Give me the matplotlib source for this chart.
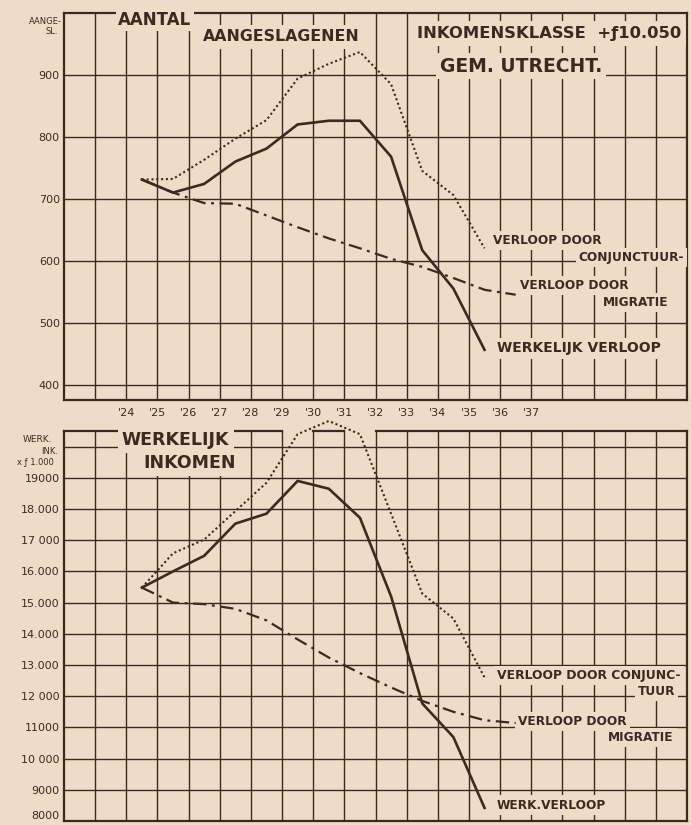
import numpy as np
import matplotlib.pyplot as plt

# ---- data (points sit at mid-year) ----
years = np.arange(1924, 1936) + 0.5
years_mig = np.arange(1924, 1937) + 0.5

# aantal aangeslagenen
aantal_werkelijk = [731, 710, 724, 760, 781, 820, 826, 826, 768, 617, 555, 456]
aantal_conjunctuur = [731, 732, 763, 797, 827, 894, 918, 937, 885, 745, 706, 620]
aantal_migratie = [731, 710, 693, 692, 673, 654, 636, 620, 603, 590, 572, 553, 545]

# werkelijk inkomen x f 1.000
ink_werkelijk = [15480, 16000, 16500, 17530, 17850, 18900, 18650, 17720, 15200, 11770, 10690, 8420]
ink_conjunctuur = [15480, 16580, 17020, 17930, 18840, 20400, 20820, 20400, 17850, 15290, 14490, 12600]
ink_migratie = [15480, 15000, 14950, 14800, 14430, 13820, 13240, 12740, 12280, 11850, 11500, 11230, 11140]

year_ticks = list(range(1923, 1942))
year_labels = ["'%02d" % (y % 100) if 1924 <= y <= 1937 else "" for y in year_ticks]

top_ticks = [400, 500, 600, 700, 800, 900]
top_labels = ["400", "500", "600", "700", "800", "900"]
bot_ticks = [8000, 9000, 10000, 11000, 12000, 13000, 14000, 15000, 16000, 17000, 18000, 19000, 20000]
bot_labels = ["8000", "9000", "10 000", "11000", "12 000", "13.000", "14.000", "15.000",
              "16.000", "17 000", "18.000", "19000", ""]

BG = "#eddcc7"
INK = "#3b2b1f"

fig = plt.figure(figsize=(6.91, 8.25), dpi=100, facecolor=BG)
ax1 = fig.add_axes([64 / 691, 425 / 825, 623 / 691, 387 / 825])
ax2 = fig.add_axes([64 / 691, 4 / 825, 623 / 691, 390 / 825])

for ax in (ax1, ax2):
    ax.set_facecolor(BG)
    ax.set_xlim(1922, 1942)
    ax.set_xticks(year_ticks)
    ax.set_axisbelow(True)
    ax.grid(True, color=INK, linewidth=1.0)
    ax.tick_params(length=0, colors=INK)
    for s in ax.spines.values():
        s.set_color(INK)
        s.set_linewidth(1.6)

ax1.set_ylim(375, 1000)
ax1.set_yticks(top_ticks)
ax1.set_yticklabels(top_labels, fontsize=8, color=INK)
ax1.set_xticklabels(year_labels, fontsize=8, color=INK)
ax1.tick_params(axis="x", pad=6)
ax1.tick_params(axis="y", pad=3)

ax2.set_ylim(8000, 20500)
ax2.set_yticks(bot_ticks)
ax2.set_yticklabels(bot_labels, fontsize=8, color=INK)
ax2.set_xticklabels([])
ax2.tick_params(axis="y", pad=3)
# lowest label sits just above the bottom edge
ax2.get_yticklabels()[0].set_verticalalignment("bottom")
# the curve runs through the top edge, the frame is broken there
ax2.spines["top"].set_visible(False)
for x0, x1 in [(1922, 1929), (1930, 1931), (1932, 1942)]:
    ax2.plot([x0, x1], [20500, 20500], color=INK, linewidth=1.6, clip_on=False, zorder=3)

solid = dict(color=INK, linewidth=1.9, zorder=5, solid_joinstyle="miter")
dotted = dict(color=INK, linewidth=1.5, linestyle=(0, (1, 1.3)), zorder=5, clip_on=False)
dashdot = dict(color=INK, linewidth=1.6, linestyle=(0, (6, 2.5, 1.3, 2.5)), zorder=5)

ax1.plot(years, aantal_werkelijk, **solid)
ax1.plot(years, aantal_conjunctuur, **dotted)
ax1.plot(years_mig, aantal_migratie, **dashdot)

ax2.plot(years, ink_werkelijk, **solid)
ax2.plot(years, ink_conjunctuur, **dotted)
ax2.plot(years_mig, ink_migratie, **dashdot)


def label(ax, x, y, s, fs=9, pad=0.25):
    ax.text(x, y, s, transform=ax.transAxes, fontsize=fs, fontweight="bold", color=INK,
            ha="left", va="center", zorder=4,
            bbox=dict(boxstyle="square,pad=%s" % pad, facecolor=BG, edgecolor="none"))


# titles
label(ax1, 0.087, 0.982, "AANTAL", fs=12, pad=0.15)
label(ax1, 0.223, 0.938, "AANGESLAGENEN", fs=11.3, pad=0.3)
label(ax1, 0.566, 0.946, "INKOMENSKLASSE  +ƒ10.050", fs=11.8, pad=0.3)
label(ax1, 0.603, 0.863, "GEM. UTRECHT.", fs=13.5, pad=0.2)

# line labels, top
label(ax1, 0.689, 0.413, "VERLOOP DOOR", fs=8.7)
label(ax1, 0.826, 0.369, "CONJUNCTUUR-", fs=8.7)
label(ax1, 0.732, 0.297, "VERLOOP DOOR", fs=8.7)
label(ax1, 0.865, 0.253, "MIGRATIE", fs=8.7)
label(ax1, 0.695, 0.134, "WERKELĲK VERLOOP", fs=10)

# bottom panel
label(ax2, 0.093, 0.977, "WERKELĲK", fs=12.5, pad=0.25)
label(ax2, 0.127, 0.918, "INKOMEN", fs=12.5, pad=0.25)
label(ax2, 0.695, 0.374, "VERLOOP DOOR CONJUNC-", fs=8.9)
label(ax2, 0.921, 0.331, "TUUR", fs=8.7)
label(ax2, 0.729, 0.254, "VERLOOP DOOR", fs=8.7)
label(ax2, 0.873, 0.213, "MIGRATIE", fs=8.7)
label(ax2, 0.695, 0.041, "WERK.VERLOOP", fs=8.7)

# axis captions
fig.text(62 / 691, 1 - 22 / 825, "AANGE-", fontsize=6, color=INK, ha="right", va="center")
fig.text(58 / 691, 1 - 31 / 825, "SL.", fontsize=6, color=INK, ha="right", va="center")
fig.text(52 / 691, 1 - 440 / 825, "WERK.", fontsize=6.5, color=INK, ha="right", va="center")
fig.text(58 / 691, 1 - 451 / 825, "INK.", fontsize=6, color=INK, ha="right", va="center")
fig.text(54 / 691, 1 - 462 / 825, "x ƒ 1.000", fontsize=6, color=INK, ha="right", va="center")

fig.savefig("out.png", dpi=100, facecolor=BG)
